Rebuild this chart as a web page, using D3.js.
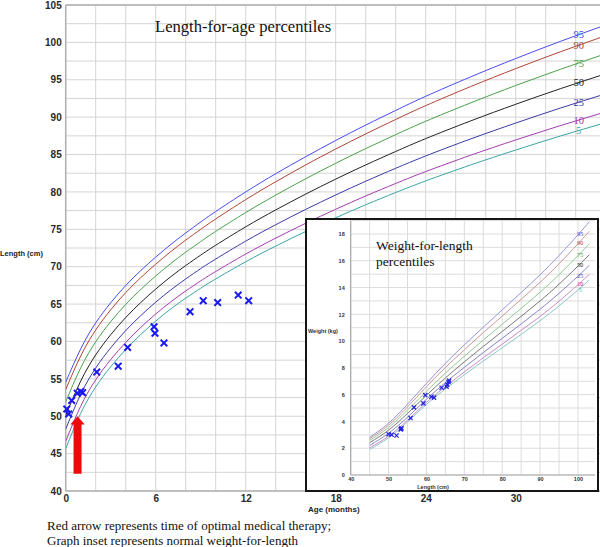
<!DOCTYPE html>
<html>
<head>
<meta charset="utf-8">
<script src="https://cdn.jsdelivr.net/npm/d3@7"></script>
<style>
html,body{margin:0;padding:0;background:#fff;}
svg{display:block;}
</style>
</head>
<body>
<svg id="chart" width="600" height="547"></svg>
<script>
// ---------- Main chart data: length-for-age percentiles (cm) ----------
const ages = [0,1,2,3,4,5,6,7,8,9,10,12,14,16,18,20,22,24,27,30,33,36];
const lfaP5  = [45.66,50.39,53.92,56.62,58.92,60.92,62.72,64.34,65.79,67.12,68.36,70.66,72.75,74.71,76.54,78.28,79.92,81.47,83.61,85.60,87.49,89.27];
const lfaP10 = [46.64,51.34,54.87,57.57,59.87,61.87,63.67,65.29,66.75,68.10,69.36,71.69,73.82,75.81,77.68,79.46,81.13,82.72,84.91,86.95,88.88,90.71];
const lfaP25 = [48.28,52.93,56.45,59.15,61.45,63.45,65.25,66.88,68.36,69.74,71.02,73.42,75.61,77.66,79.59,81.43,83.16,84.81,87.09,89.21,91.23,93.12];
const lfaP50 = [50.10,54.70,58.20,60.90,63.20,65.20,67.00,68.65,70.15,71.55,72.87,75.33,77.59,79.71,81.71,83.61,85.41,87.13,89.50,91.72,93.82,95.80];
const lfaP75 = [51.92,56.47,59.95,62.65,64.95,66.95,68.75,70.42,71.94,73.36,74.72,77.24,79.57,81.76,83.83,85.79,87.66,89.45,91.91,94.23,96.41,98.48];
const lfaP90 = [53.56,58.06,61.53,64.23,66.53,68.53,70.33,72.01,73.55,75.00,76.38,78.97,81.36,83.61,85.74,87.76,89.69,91.54,94.09,96.49,98.76,100.89];
const lfaP95 = [54.54,59.01,62.48,65.18,67.48,69.48,71.28,72.96,74.51,75.98,77.38,80.00,82.43,84.71,86.88,88.94,90.90,92.79,95.39,97.84,100.15,102.33];

// patient measurements (age in months, length in cm)
const patientAge    = [0.07,0.2,0.4,0.77,1.0,1.13,2.07,3.5,4.13,5.89,5.95,6.55,8.29,9.17,10.13,11.5,12.2];
const patientLength = [50.97,50.3,52.1,53.07,53.3,53.15,55.9,56.7,59.2,61.97,61.1,59.8,63.98,65.45,65.2,66.2,65.45];

const percentileNames = ["95","90","75","50","25","10","5"];
const yTicksMain = [40,45,50,55,60,65,70,75,80,85,90,95,100,105];
const xTicksMain = [0,6,12,18,24,30];

// arrow (time of optimal therapy)
const arrowAge = 0.79, arrowFrom = 42.3, arrowTo = 50.0;

// ---------- Inset data: weight-for-length percentiles (kg) ----------
const lengths = [45,50,55,60,65,70,75,80,85,90,95,100,103];
const wflP5  = [1.90,2.78,3.96,5.27,6.42,7.49,8.51,9.50,10.50,11.52,12.63,13.82,14.57];
const wflP10 = [2.03,2.90,4.09,5.42,6.60,7.70,8.75,9.77,10.80,11.84,12.98,14.21,14.99];
const wflP25 = [2.21,3.12,4.32,5.66,6.90,8.04,9.14,10.21,11.28,12.38,13.57,14.85,15.66];
const wflP50 = [2.42,3.35,4.60,5.95,7.25,8.45,9.60,10.72,11.85,13.00,14.25,15.60,16.45];
const wflP75 = [2.59,3.55,4.85,6.25,7.61,8.87,10.08,11.26,12.44,13.65,14.96,16.38,17.27];
const wflP90 = [2.71,3.72,5.08,6.59,8.03,9.35,10.63,11.87,13.12,14.39,15.77,17.27,18.21];
const wflP95 = [2.81,3.87,5.29,6.84,8.34,9.72,11.04,12.33,13.63,14.95,16.39,17.94,18.92];

const patientLen2    = [50.0,50.8,52.1,53.2,53.4,53.3,55.8,56.7,59.2,59.7,61.3,62.0,64.0,65.3,65.5,65.8,66.0];
const patientWeight  = [3.05,3.0,2.95,3.4,3.5,3.45,4.25,5.05,5.35,5.97,5.85,5.78,6.52,6.6,6.75,6.95,7.05];

const yTicksInset = [0,2,4,6,8,10,12,14,16,18];
const xTicksInset = [40,50,60,70,80,90,100];

// ---------- drawing ----------
const mainColors  = ["#4a4af0","#b04434","#4aa04a","#222222","#3a3aa8","#a43cb0","#3aa4a4"];
const insetColors = ["#9494dc","#cc9898","#94c894","#777777","#8484c8","#c88cc8","#8cc8c8"];
const labelColorsInset = ["#3a3ae0","#b03a3a","#3a9a3a","#222","#3a3ab0","#a030a0","#30a0a0"];

const svg = d3.select("#chart");
const x = d3.scaleLinear().domain([0, 35.62]).range([65.7, 600]);
const y = d3.scaleLinear().domain([40, 105]).range([491, 5]);

const gridC = "#d4d4d4";
const g = svg.append("g");

// grid
g.selectAll(".vg").data(d3.range(0, 36, 2)).join("line")
  .attr("x1", d => x(d)).attr("x2", d => x(d)).attr("y1", y(40)).attr("y2", y(105))
  .attr("stroke", gridC).attr("stroke-width", 1);
g.selectAll(".hg").data(d3.range(40, 105.01, 2.5)).join("line")
  .attr("x1", x(0)).attr("x2", 600).attr("y1", d => y(d)).attr("y2", d => y(d))
  .attr("stroke", gridC).attr("stroke-width", 1);
// frame lines
g.append("line").attr("x1", x(0)).attr("x2", 600).attr("y1", y(105)).attr("y2", y(105))
  .attr("stroke", "#bdbdbd").attr("stroke-width", 2);
g.append("line").attr("x1", x(0)).attr("x2", x(0)).attr("y1", y(105)).attr("y2", y(40))
  .attr("stroke", "#b0b0b0").attr("stroke-width", 1.5);
g.append("line").attr("x1", x(0)).attr("x2", 600).attr("y1", y(40)).attr("y2", y(40))
  .attr("stroke", "#b0b0b0").attr("stroke-width", 1.5);

// axes
const yAxis = d3.axisLeft(y).tickValues(yTicksMain).tickSize(0).tickPadding(4);
const ay = svg.append("g").attr("transform", `translate(${x(0)},0)`).call(yAxis);
const xAxis = d3.axisBottom(x).tickValues(xTicksMain).tickSize(0).tickPadding(4);
const ax = svg.append("g").attr("transform", `translate(0,${y(40)})`).call(xAxis);
[ay, ax].forEach(a => {
  a.select(".domain").remove();
  a.selectAll("text").attr("font-family", "Liberation Sans, Arial, sans-serif")
    .attr("font-size", 10).attr("font-weight", "bold").attr("fill", "#2a2a2a");
});

// percentile curves
const mainSeries = [lfaP95, lfaP90, lfaP75, lfaP50, lfaP25, lfaP10, lfaP5];
const line = d3.line().x(d => x(d[0])).y(d => y(d[1])).curve(d3.curveNatural);
svg.append("clipPath").attr("id", "mclip").append("rect")
  .attr("x", x(0)).attr("y", y(105)).attr("width", 600 - x(0)).attr("height", y(40) - y(105));
const cg = svg.append("g").attr("clip-path", "url(#mclip)");
mainSeries.forEach((s, i) => {
  cg.append("path").datum(ages.map((a, j) => [a, s[j]]))
    .attr("d", line).attr("fill", "none").attr("stroke", mainColors[i]).attr("stroke-width", 1);
});

// percentile labels
function interp(xs, ys, v) {
  for (let i = 0; i < xs.length - 1; i++) {
    if (v >= xs[i] && v <= xs[i + 1]) {
      const t = (v - xs[i]) / (xs[i + 1] - xs[i]);
      return ys[i] + t * (ys[i + 1] - ys[i]);
    }
  }
  return ys[ys.length - 1];
}
const labelAge = 34.2;
mainSeries.forEach((s, i) => {
  svg.append("text").attr("x", x(labelAge)).attr("y", y(interp(ages, s, labelAge)))
    .attr("dy", "0.35em").attr("text-anchor", "middle")
    .attr("font-family", "Liberation Serif, Times New Roman, serif").attr("font-size", 10.5)
    .attr("fill", mainColors[i]).text(percentileNames[i]);
});

// patient markers
function cross(sel, cx, cy, r, w, col) {
  sel.append("path")
    .attr("d", `M${cx - r},${cy - r}L${cx + r},${cy + r}M${cx - r},${cy + r}L${cx + r},${cy - r}`)
    .attr("stroke", col).attr("stroke-width", w).attr("fill", "none");
}
patientAge.forEach((a, i) => cross(svg, x(a), y(patientLength[i]), 3.3, 2, "#1a1aee"));

// red arrow
const ax0 = x(arrowAge);
const shaftW = 4, headW = 7.2, headH = 8.3;
svg.append("path")
  .attr("d", `M${ax0 - shaftW},${y(arrowFrom)} L${ax0 - shaftW},${y(arrowTo) + headH} L${ax0 - headW},${y(arrowTo) + headH}
    L${ax0},${y(arrowTo)} L${ax0 + headW},${y(arrowTo) + headH} L${ax0 + shaftW},${y(arrowTo) + headH} L${ax0 + shaftW},${y(arrowFrom)} Z`)
  .attr("fill", "#ee0a0a");

// titles and labels
svg.append("text").attr("x", 155).attr("y", 32)
  .attr("font-family", "Liberation Serif, Times New Roman, serif").attr("font-size", 16.6)
  .attr("fill", "#111").text("Length-for-age percentiles");
svg.append("text").attr("x", 0).attr("y", 256)
  .attr("font-family", "Liberation Sans, Arial, sans-serif").attr("font-size", 7.5).attr("font-weight", "bold")
  .attr("fill", "#222").text("Length (cm)");
svg.append("text").attr("x", 308).attr("y", 512)
  .attr("font-family", "Liberation Sans, Arial, sans-serif").attr("font-size", 8).attr("font-weight", "bold")
  .attr("fill", "#222").text("Age (months)");
svg.append("text").attr("x", 47).attr("y", 530)
  .attr("font-family", "Liberation Serif, Times New Roman, serif").attr("font-size", 13)
  .attr("fill", "#111").text("Red arrow represents time of optimal medical therapy;");
svg.append("text").attr("x", 47).attr("y", 545)
  .attr("font-family", "Liberation Serif, Times New Roman, serif").attr("font-size", 13)
  .attr("fill", "#111").text("Graph inset represents normal weight-for-length");

// ---------- inset ----------
const ins = svg.append("g");
ins.append("rect").attr("x", 306).attr("y", 219).attr("width", 292).attr("height", 272)
  .attr("fill", "#fff").attr("stroke", "#151515").attr("stroke-width", 2);
const ix = d3.scaleLinear().domain([40, 104.5]).range([350.7, 595]);
const iy = d3.scaleLinear().domain([0, 19]).range([475, 220.6]);
ins.selectAll(".ivg").data(d3.range(40, 104.6, 5)).join("line")
  .attr("x1", d => ix(d)).attr("x2", d => ix(d)).attr("y1", iy(0)).attr("y2", iy(19))
  .attr("stroke", "#dcdcdc").attr("stroke-width", 1);
ins.selectAll(".ihg").data(d3.range(0, 19.01, 1)).join("line")
  .attr("x1", ix(40)).attr("x2", ix(104.5)).attr("y1", d => iy(d)).attr("y2", d => iy(d))
  .attr("stroke", "#dcdcdc").attr("stroke-width", 1);
ins.append("line").attr("x1", ix(40)).attr("x2", ix(40)).attr("y1", iy(0)).attr("y2", iy(19))
  .attr("stroke", "#a8a8a8").attr("stroke-width", 1.2);
ins.append("line").attr("x1", ix(40)).attr("x2", ix(104.5)).attr("y1", iy(0)).attr("y2", iy(0))
  .attr("stroke", "#a8a8a8").attr("stroke-width", 1.2);

const iyAxis = ins.append("g").attr("transform", `translate(${ix(40)},0)`)
  .call(d3.axisLeft(iy).tickValues(yTicksInset).tickSize(0).tickPadding(6));
const ixAxis = ins.append("g").attr("transform", `translate(0,${iy(0)})`)
  .call(d3.axisBottom(ix).tickValues(xTicksInset).tickSize(0).tickPadding(2));
[iyAxis, ixAxis].forEach(a => {
  a.select(".domain").remove();
  a.selectAll("text").attr("font-family", "Liberation Sans, Arial, sans-serif")
    .attr("font-size", 5.5).attr("font-weight", "bold").attr("fill", "#333");
});
ins.append("text").attr("x", 308).attr("y", 333)
  .attr("font-family", "Liberation Sans, Arial, sans-serif").attr("font-size", 5.5).attr("font-weight", "bold")
  .attr("fill", "#333").text("Weight (kg)");
ins.append("text").attr("x", 433).attr("y", 489).attr("text-anchor", "middle")
  .attr("font-family", "Liberation Sans, Arial, sans-serif").attr("font-size", 5.5).attr("font-weight", "bold")
  .attr("fill", "#333").text("Length (cm)");
ins.append("text").attr("x", 376).attr("y", 250)
  .attr("font-family", "Liberation Serif, Times New Roman, serif").attr("font-size", 13.5)
  .attr("fill", "#111").text("Weight-for-length");
ins.append("text").attr("x", 376).attr("y", 266)
  .attr("font-family", "Liberation Serif, Times New Roman, serif").attr("font-size", 13.5)
  .attr("fill", "#111").text("percentiles");

const insetSeries = [wflP95, wflP90, wflP75, wflP50, wflP25, wflP10, wflP5];
const iline = d3.line().x(d => ix(d[0])).y(d => iy(d[1])).curve(d3.curveNatural);
insetSeries.forEach((s, i) => {
  ins.append("path").datum(lengths.map((l, j) => [l, s[j]]))
    .attr("d", iline).attr("fill", "none").attr("stroke", insetColors[i]).attr("stroke-width", 1);
});
const insLabelLen = 100.6;
insetSeries.forEach((s, i) => {
  ins.append("text").attr("x", ix(insLabelLen)).attr("y", iy(interp(lengths, s, insLabelLen)) + 1.5)
    .attr("dy", "0.35em").attr("text-anchor", "middle")
    .attr("font-family", "Liberation Serif, Times New Roman, serif").attr("font-size", 6)
    .attr("fill", labelColorsInset[i]).text(percentileNames[i]);
});
patientLen2.forEach((l, i) => cross(ins, ix(l), iy(patientWeight[i]), 2.1, 1.2, "#2222dd"));
</script>
</body>
</html>
